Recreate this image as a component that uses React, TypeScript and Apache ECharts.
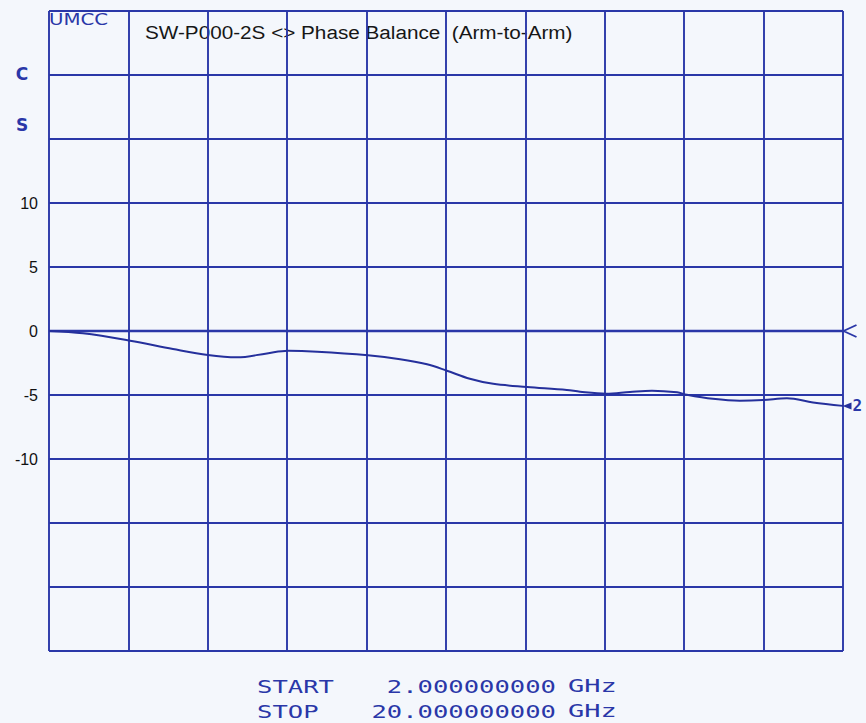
import React, { useEffect, useRef } from 'react';
import * as echarts from 'echarts';

// Frequency (GHz) and phase balance (deg)
const freqGHz = [2.0, 2.77, 3.84, 4.81, 5.6, 6.26, 6.94, 7.42, 8.08, 9.23, 9.96, 10.57, 11.02, 11.54, 12.07, 12.84, 13.74, 14.04, 14.63, 15.17, 15.67, 16.24, 16.46, 17.05, 17.66, 18.19, 18.73, 19.32, 20.0];
const phaseDeg = [0, -0.18, -0.76, -1.41, -1.88, -2.06, -1.75, -1.55, -1.62, -1.9, -2.2, -2.6, -3.1, -3.73, -4.13, -4.37, -4.6, -4.75, -4.9, -4.76, -4.66, -4.79, -4.98, -5.3, -5.45, -5.4, -5.26, -5.58, -5.85];
const refLine = [0, 0];
const yTickLabels = [10, 5, 0, -5, -10];
const startText = ['START', '2.000000000', 'GHz'];
const stopText = ['STOP', '20.000000000', 'GHz'];
const titleText = 'SW-P000-2S <> Phase Balance  (Arm-to-Arm)';

const BLUE = '#2a37a8';
const TRACE = '#25309c';

export default function App() {
  const ref = useRef<HTMLDivElement>(null);
  useEffect(() => {
    if (!ref.current) return;
    const chart = echarts.init(ref.current, null, { renderer: 'svg' });
    const traceData = freqGHz.map((f, i) => [f, phaseDeg[i]]);
    const plotterFont = 'DejaVu Sans Mono';
    const bottomRow = (row: string[], y: number) => [
      { type: 'text', x: 257, y, scaleX: 1.42, style: { text: row[0], fill: BLUE, fontSize: 18, fontFamily: plotterFont, textAlign: 'left', textVerticalAlign: 'middle' } },
      { type: 'text', x: 556, y, scaleX: 1.42, style: { text: row[1], fill: BLUE, fontSize: 18, fontFamily: plotterFont, textAlign: 'right', textVerticalAlign: 'middle' } },
      { type: 'text', x: 568, y, scaleX: 1.5, style: { text: row[2], fill: BLUE, fontSize: 18, fontFamily: plotterFont, textAlign: 'left', textVerticalAlign: 'middle' } },
    ];
    chart.setOption({
      animation: false,
      backgroundColor: '#f4f7fc',
      grid: { left: 49, right: 23, top: 11, bottom: 72, containLabel: false },
      xAxis: [
        {
          type: 'value', min: 2, max: 20,
          axisLine: { show: false }, axisTick: { show: false }, axisLabel: { show: false }, splitLine: { show: false },
        },
        {
          type: 'value', min: 0, max: 10, interval: 1, position: 'bottom',
          axisLine: { show: false }, axisTick: { show: false }, axisLabel: { show: false },
          splitLine: { show: true, lineStyle: { color: BLUE, width: 1.9 } },
        },
      ],
      yAxis: {
        type: 'value', min: -25, max: 25, interval: 5,
        axisLine: { show: false }, axisTick: { show: false },
        axisLabel: {
          margin: 11, color: '#111', fontSize: 16, fontFamily: 'Liberation Sans',
          formatter: (v: number) => (yTickLabels.includes(v) ? String(v) : ''),
        },
        splitLine: { show: true, lineStyle: { color: BLUE, width: 1.9 } },
      },
      series: [
        {
          type: 'line', xAxisIndex: 0, data: [[2, refLine[0]], [20, refLine[1]]],
          symbol: 'none', lineStyle: { color: BLUE, width: 2.4 }, clip: false,
          markPoint: {
            symbol: 'path://M10,0 L0,5 L10,10', symbolSize: [13, 12], symbolOffset: [7, 0],
            itemStyle: { color: 'none', borderColor: BLUE, borderWidth: 1.8 },
            label: { show: false },
            data: [{ coord: [20, 0] }],
          },
        },
        {
          type: 'line', xAxisIndex: 0, data: traceData, smooth: 0.35,
          symbol: 'none', lineStyle: { color: TRACE, width: 2 }, clip: false,
          markPoint: {
            symbol: 'path://M0,5 L10,0 L10,10 Z', symbolSize: [9, 7], symbolOffset: [4, 0],
            itemStyle: { color: TRACE },
            label: { show: true, position: 'right', distance: 1, formatter: '2', color: BLUE, fontSize: 16, fontFamily: plotterFont, fontWeight: 'bold' },
            data: [{ coord: traceData[traceData.length - 1] }],
          },
        },
      ],
      graphic: [
        { type: 'text', x: 49, y: 20, scaleX: 1.32, style: { text: 'UMCC', fill: BLUE, fontSize: 15, fontFamily: 'DejaVu Sans', textAlign: 'left', textVerticalAlign: 'middle' } },
        { type: 'text', x: 145, y: 32, scaleX: 1.09, style: { text: titleText, fill: '#161616', fontSize: 19, fontFamily: 'Liberation Sans', textAlign: 'left', textVerticalAlign: 'middle' } },
        { type: 'text', x: 22, y: 74, style: { text: 'C', fill: BLUE, fontSize: 17, fontWeight: 'bold', fontFamily: 'DejaVu Sans', textAlign: 'center', textVerticalAlign: 'middle' } },
        { type: 'text', x: 22, y: 125, style: { text: 'S', fill: BLUE, fontSize: 17, fontWeight: 'bold', fontFamily: 'DejaVu Sans', textAlign: 'center', textVerticalAlign: 'middle' } },
        ...bottomRow(startText, 686),
        ...bottomRow(stopText, 711),
      ],
    });
    return () => chart.dispose();
  }, []);
  return (
    <div
      ref={ref}
      style={{ position: 'absolute', left: 0, top: 0, width: 866, height: 723, background: '#f4f7fc' }}
    />
  );
}
